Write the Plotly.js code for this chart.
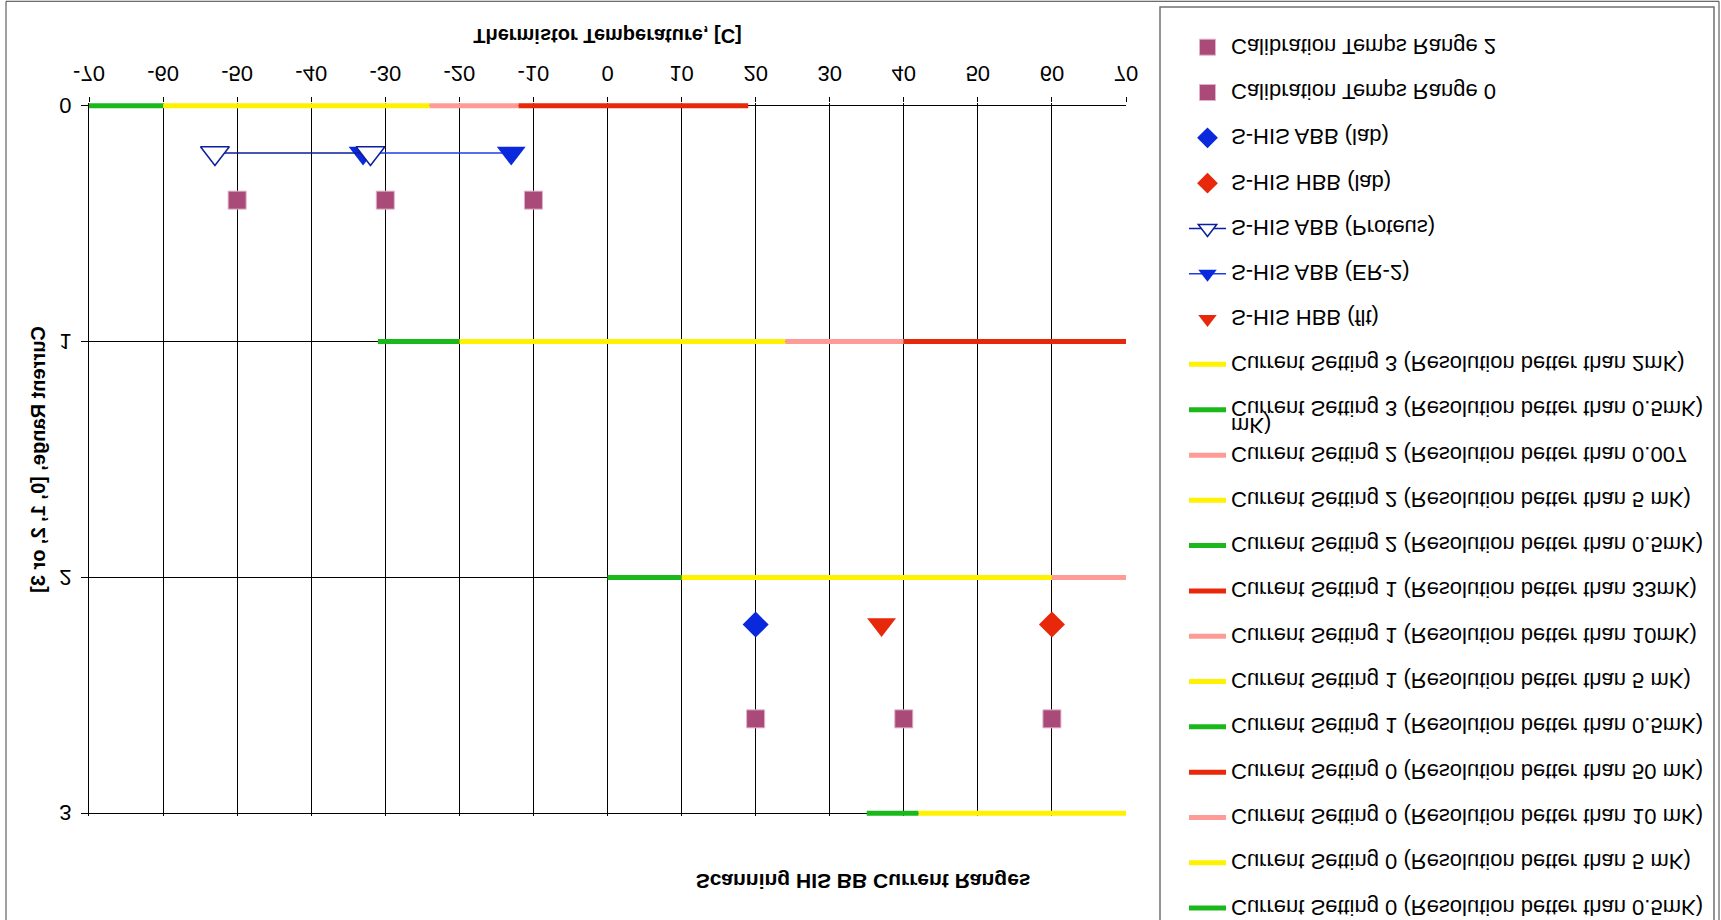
<!DOCTYPE html>
<html><head><meta charset="utf-8">
<script src="https://cdn.plot.ly/plotly-3.0.1.min.js"></script>
<style>
html,body{margin:0;padding:0;background:#fff;overflow:hidden}
#chart{width:1721px;height:920px;transform:scaleY(-1);transform-origin:50% 50%;}
</style>
</head><body><div id="chart"></div>
<script>
// ---------------- data ----------------
const xTicks = [-70,-60,-50,-40,-30,-20,-10,0,10,20,30,40,50,60,70];
const yTicks = [0,1,2,3];

const rangeNames = [
  "Current Setting 0 (Resolution better than 0.5mK)",
  "Current Setting 0 (Resolution better than 5 mK)",
  "Current Setting 0 (Resolution better than 10 mK)",
  "Current Setting 0 (Resolution better than 50 mK)",
  "Current Setting 1 (Resolution better than 0.5mK)",
  "Current Setting 1 (Resolution better than 5 mK)",
  "Current Setting 1 (Resolution better than 10mK)",
  "Current Setting 1 (Resolution better than 33mK)",
  "Current Setting 2 (Resolution better than 0.5mK)",
  "Current Setting 2 (Resolution better than 5 mK)",
  "Current Setting 2 (Resolution better than 0.007<br>mK)",
  "Current Setting 3 (Resolution better than 0.5mK)",
  "Current Setting 3 (Resolution better than 2mK)"
];
const rangeLevel = [0,0,0,0, 1,1,1,1, 2,2,2, 3,3];
const rangeFrom  = [-70,-60,-24,-12, -31,-20,24,40, 0,10,60, 35,42];
const rangeTo    = [-60,-24,-12,19,  -20,24,40,70,  10,60,70, 42,70];

const hbbFltName = "S-HIS HBB (flt)";
const hbbFltTemp = [37];            const hbbFltLevel = [2.2];
const abbEr2Name = "S-HIS ABB (ER-2)";
const abbEr2Temp = [-33,-13];       const abbEr2Level = [0.2,0.2];
const abbProteusName = "S-HIS ABB (Proteus)";
const abbProteusTemp = [-53,-32];   const abbProteusLevel = [0.2,0.2];
const hbbLabName = "S-HIS HBB (lab)";
const hbbLabTemp = [60];            const hbbLabLevel = [2.2];
const abbLabName = "S-HIS ABB (lab)";
const abbLabTemp = [20];            const abbLabLevel = [2.2];
const cal0Name = "Calibration Temps Range 0";
const cal0Temps = [-50,-30,-10];    const cal0Level = [0.4,0.4,0.4];
const cal2Name = "Calibration Temps Range 2";
const cal2Temps = [20,40,60];       const cal2Level = [2.6,2.6,2.6];

const chartTitle = "Scanning HIS BB Current Ranges";
const xTitle = "Thermistor Temperature, [C]";
const yTitle = "Current Range, [0, 1, 2, or 3]";

// ---------------- styles ----------------
const GREEN='#1BB81B', YELLOW='#FFF200', PINK='#FF9B96', RED='#E8280A';
const rangeColors = [GREEN,YELLOW,PINK,RED, GREEN,YELLOW,PINK,RED, GREEN,YELLOW,PINK, GREEN,YELLOW];
const BLUE='#0A28DC', MAUVE='#AA4A78';
const FONT = '"Liberation Sans", Arial, sans-serif';

// layout geometry (pixels); small range padding so the edge lines are not clipped
const W=1721, H=920;
const yPad = 0.012, unitPx = 707/3;
const ML=89, MR=595, MT=107 - yPad*unitPx, MB=106 - yPad*unitPx;
const PW = W-ML-MR, PH = H-MT-MB;
const px2x = p => (p-ML)/PW;
const py2y = p => (H-MB-p)/PH;

const legendSlotTop = 12.3, legendSlotStep = 45.29, legendFont = 22;

const traces = [];
function legendKey(s){ return s===0 ? 'legend' : 'legend'+(s+1); }

rangeNames.forEach((nm,i)=>{
  traces.push({
    type:'scatter', mode:'lines', name:nm,
    x:[rangeFrom[i], rangeTo[i]], y:[rangeLevel[i], rangeLevel[i]],
    line:{color:rangeColors[i], width:5},
    legend: legendKey(i), hoverinfo:'skip'
  });
});
const extra = [
  {name:hbbFltName, x:hbbFltTemp, y:hbbFltLevel, mode:'markers',
   marker:{symbol:'triangle-up', size:25, color:RED}},
  {name:abbEr2Name, x:abbEr2Temp, y:abbEr2Level, mode:'lines+markers',
   line:{color:'#1E3CE6', width:1.5}, marker:{symbol:'triangle-up', size:25, color:BLUE}},
  {name:abbProteusName, x:abbProteusTemp, y:abbProteusLevel, mode:'lines+markers',
   line:{color:'#0A1E9E', width:1.5}, marker:{symbol:'triangle-up', size:25, color:'#ffffff', line:{color:'#0A1E9E', width:1.5}}},
  {name:hbbLabName, x:hbbLabTemp, y:hbbLabLevel, mode:'markers',
   marker:{symbol:'diamond', size:20, color:RED}},
  {name:abbLabName, x:abbLabTemp, y:abbLabLevel, mode:'markers',
   marker:{symbol:'diamond', size:20, color:BLUE}},
  {name:cal0Name, x:cal0Temps, y:cal0Level, mode:'markers',
   marker:{symbol:'square', size:18, color:MAUVE, line:{color:'#E0B0CC', width:1}}},
  {name:cal2Name, x:cal2Temps, y:cal2Level, mode:'markers',
   marker:{symbol:'square', size:18, color:MAUVE, line:{color:'#E0B0CC', width:1}}}
];
extra.forEach((t,j)=>{
  t.type='scatter'; t.legend=legendKey(rangeNames.length+j); t.hoverinfo='skip';
  traces.push(t);
});

const layout = {
  width:W, height:H,
  margin:{l:ML, r:MR, t:MT, b:MB, autoexpand:false},
  paper_bgcolor:'#ffffff', plot_bgcolor:'#ffffff',
  font:{family:FONT, color:'#000000', size:22},
  title:{text:chartTitle, font:{family:FONT, size:21, weight:'bold', color:'#000'},
         xref:'container', x:0.5015, yref:'container', y:1-39/H, yanchor:'middle'},
  xaxis:{range:[-70,70], tickvals:xTicks, ticktext:xTicks.map(String),
         showgrid:true, gridcolor:'#000000', gridwidth:1, zeroline:false,
         showline:false, layer:'below traces',
         ticks:'outside', ticklen:5, tickcolor:'#000', tickfont:{size:22},
         ticklabelstandoff:5,
         title:{text:xTitle, font:{size:20, weight:'bold'}, standoff:18}},
  yaxis:{range:[-yPad, 3+yPad], tickvals:yTicks, ticktext:yTicks.map(String),
         showgrid:true, gridcolor:'#000000', gridwidth:1, zeroline:false,
         showline:true, linecolor:'#000000', linewidth:1, layer:'below traces',
         ticks:'outside', ticklen:7, tickcolor:'#000', tickfont:{size:22},
         ticklabelstandoff:5,
         title:{text:yTitle, font:{size:20, weight:'bold'}, standoff:8}},
  shapes:[
    {type:'rect', xref:'paper', yref:'paper', x0:px2x(6), x1:px2x(1719), y0:py2y(918.5), y1:py2y(-5),
     line:{color:'#404040', width:1}, fillcolor:'rgba(0,0,0,0)', layer:'below'},
    {type:'rect', xref:'paper', yref:'paper', x0:px2x(1160), x1:px2x(1714), y0:py2y(912.7), y1:py2y(-5),
     line:{color:'#707070', width:1.5}, fillcolor:'rgba(0,0,0,0)', layer:'below'}
  ],
  showlegend:true
};
const nSlots = traces.length;
for(let s=0; s<nSlots; s++){
  const nm = traces[s].name;
  const wrapped = nm.indexOf('<br>')>=0;
  let yc = legendSlotTop + s*legendSlotStep;
  if(wrapped) yc += legendFont*1.3/2;
  layout[legendKey(s)] = {
    x:px2x(1184), xanchor:'left', y:py2y(yc), yanchor:'middle',
    bgcolor:'rgba(0,0,0,0)', borderwidth:0, itemwidth:37,
    font:{family:FONT, size:legendFont, color:'#000'},
    valign: wrapped ? 'top' : 'middle'
  };
}
Plotly.newPlot('chart', traces, layout, {displayModeBar:false, staticPlot:true});
</script>
</body></html>
